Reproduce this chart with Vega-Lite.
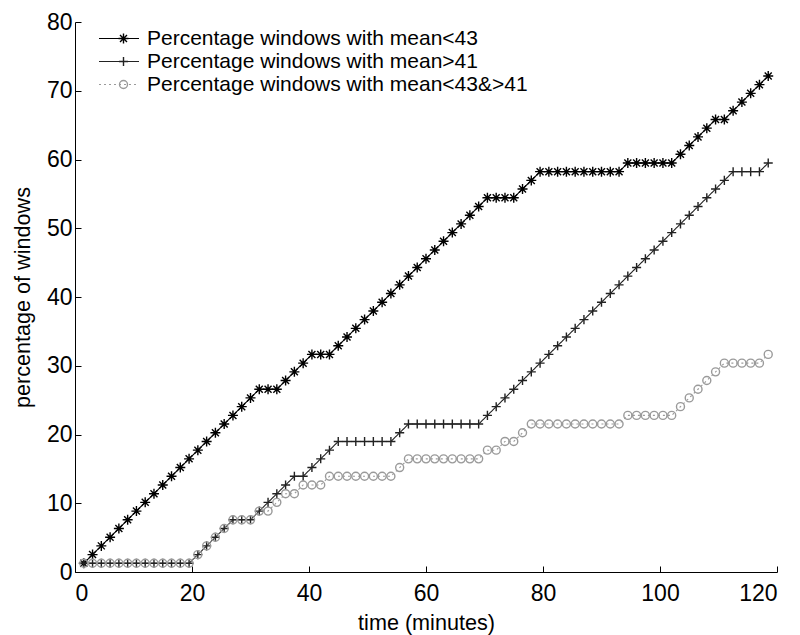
{
  "$schema": "https://vega.github.io/schema/vega-lite/v6.json",
  "width": 702,
  "height": 550,
  "autosize": {"type": "none"},
  "padding": {"left": 75, "top": 22, "right": 23, "bottom": 63},
  "background": "white",
  "config": {
    "view": {"stroke": null},
    "font": "Liberation Sans",
    "axis": {
      "grid": false,
      "domainColor": "#000",
      "domainWidth": 1,
      "tickColor": "#000",
      "tickWidth": 1,
      "tickSize": -6,
      "labelColor": "#000",
      "titleColor": "#000",
      "labelFont": "Liberation Sans",
      "titleFont": "Liberation Sans",
      "labelFontSize": 23,
      "titleFontSize": 21.6,
      "titleFontWeight": "normal"
    }
  },
  "data": {
    "values": [
      {"time": 1.5, "series": "Percentage windows with mean<43", "pct": 1.27},
      {"time": 3, "series": "Percentage windows with mean<43", "pct": 2.53},
      {"time": 4.5, "series": "Percentage windows with mean<43", "pct": 3.8},
      {"time": 6, "series": "Percentage windows with mean<43", "pct": 5.06},
      {"time": 7.5, "series": "Percentage windows with mean<43", "pct": 6.33},
      {"time": 9, "series": "Percentage windows with mean<43", "pct": 7.59},
      {"time": 10.5, "series": "Percentage windows with mean<43", "pct": 8.86},
      {"time": 12, "series": "Percentage windows with mean<43", "pct": 10.13},
      {"time": 13.5, "series": "Percentage windows with mean<43", "pct": 11.39},
      {"time": 15, "series": "Percentage windows with mean<43", "pct": 12.66},
      {"time": 16.5, "series": "Percentage windows with mean<43", "pct": 13.92},
      {"time": 18, "series": "Percentage windows with mean<43", "pct": 15.19},
      {"time": 19.5, "series": "Percentage windows with mean<43", "pct": 16.46},
      {"time": 21, "series": "Percentage windows with mean<43", "pct": 17.72},
      {"time": 22.5, "series": "Percentage windows with mean<43", "pct": 18.99},
      {"time": 24, "series": "Percentage windows with mean<43", "pct": 20.25},
      {"time": 25.5, "series": "Percentage windows with mean<43", "pct": 21.52},
      {"time": 27, "series": "Percentage windows with mean<43", "pct": 22.78},
      {"time": 28.5, "series": "Percentage windows with mean<43", "pct": 24.05},
      {"time": 30, "series": "Percentage windows with mean<43", "pct": 25.32},
      {"time": 31.5, "series": "Percentage windows with mean<43", "pct": 26.58},
      {"time": 33, "series": "Percentage windows with mean<43", "pct": 26.58},
      {"time": 34.5, "series": "Percentage windows with mean<43", "pct": 26.58},
      {"time": 36, "series": "Percentage windows with mean<43", "pct": 27.85},
      {"time": 37.5, "series": "Percentage windows with mean<43", "pct": 29.11},
      {"time": 39, "series": "Percentage windows with mean<43", "pct": 30.38},
      {"time": 40.5, "series": "Percentage windows with mean<43", "pct": 31.65},
      {"time": 42, "series": "Percentage windows with mean<43", "pct": 31.65},
      {"time": 43.5, "series": "Percentage windows with mean<43", "pct": 31.65},
      {"time": 45, "series": "Percentage windows with mean<43", "pct": 32.91},
      {"time": 46.5, "series": "Percentage windows with mean<43", "pct": 34.18},
      {"time": 48, "series": "Percentage windows with mean<43", "pct": 35.44},
      {"time": 49.5, "series": "Percentage windows with mean<43", "pct": 36.71},
      {"time": 51, "series": "Percentage windows with mean<43", "pct": 37.97},
      {"time": 52.5, "series": "Percentage windows with mean<43", "pct": 39.24},
      {"time": 54, "series": "Percentage windows with mean<43", "pct": 40.51},
      {"time": 55.5, "series": "Percentage windows with mean<43", "pct": 41.77},
      {"time": 57, "series": "Percentage windows with mean<43", "pct": 43.04},
      {"time": 58.5, "series": "Percentage windows with mean<43", "pct": 44.3},
      {"time": 60, "series": "Percentage windows with mean<43", "pct": 45.57},
      {"time": 61.5, "series": "Percentage windows with mean<43", "pct": 46.84},
      {"time": 63, "series": "Percentage windows with mean<43", "pct": 48.1},
      {"time": 64.5, "series": "Percentage windows with mean<43", "pct": 49.37},
      {"time": 66, "series": "Percentage windows with mean<43", "pct": 50.63},
      {"time": 67.5, "series": "Percentage windows with mean<43", "pct": 51.9},
      {"time": 69, "series": "Percentage windows with mean<43", "pct": 53.16},
      {"time": 70.5, "series": "Percentage windows with mean<43", "pct": 54.43},
      {"time": 72, "series": "Percentage windows with mean<43", "pct": 54.43},
      {"time": 73.5, "series": "Percentage windows with mean<43", "pct": 54.43},
      {"time": 75, "series": "Percentage windows with mean<43", "pct": 54.43},
      {"time": 76.5, "series": "Percentage windows with mean<43", "pct": 55.7},
      {"time": 78, "series": "Percentage windows with mean<43", "pct": 56.96},
      {"time": 79.5, "series": "Percentage windows with mean<43", "pct": 58.23},
      {"time": 81, "series": "Percentage windows with mean<43", "pct": 58.23},
      {"time": 82.5, "series": "Percentage windows with mean<43", "pct": 58.23},
      {"time": 84, "series": "Percentage windows with mean<43", "pct": 58.23},
      {"time": 85.5, "series": "Percentage windows with mean<43", "pct": 58.23},
      {"time": 87, "series": "Percentage windows with mean<43", "pct": 58.23},
      {"time": 88.5, "series": "Percentage windows with mean<43", "pct": 58.23},
      {"time": 90, "series": "Percentage windows with mean<43", "pct": 58.23},
      {"time": 91.5, "series": "Percentage windows with mean<43", "pct": 58.23},
      {"time": 93, "series": "Percentage windows with mean<43", "pct": 58.23},
      {"time": 94.5, "series": "Percentage windows with mean<43", "pct": 59.49},
      {"time": 96, "series": "Percentage windows with mean<43", "pct": 59.49},
      {"time": 97.5, "series": "Percentage windows with mean<43", "pct": 59.49},
      {"time": 99, "series": "Percentage windows with mean<43", "pct": 59.49},
      {"time": 100.5, "series": "Percentage windows with mean<43", "pct": 59.49},
      {"time": 102, "series": "Percentage windows with mean<43", "pct": 59.49},
      {"time": 103.5, "series": "Percentage windows with mean<43", "pct": 60.76},
      {"time": 105, "series": "Percentage windows with mean<43", "pct": 62.03},
      {"time": 106.5, "series": "Percentage windows with mean<43", "pct": 63.29},
      {"time": 108, "series": "Percentage windows with mean<43", "pct": 64.56},
      {"time": 109.5, "series": "Percentage windows with mean<43", "pct": 65.82},
      {"time": 111, "series": "Percentage windows with mean<43", "pct": 65.82},
      {"time": 112.5, "series": "Percentage windows with mean<43", "pct": 67.09},
      {"time": 114, "series": "Percentage windows with mean<43", "pct": 68.35},
      {"time": 115.5, "series": "Percentage windows with mean<43", "pct": 69.62},
      {"time": 117, "series": "Percentage windows with mean<43", "pct": 70.89},
      {"time": 118.5, "series": "Percentage windows with mean<43", "pct": 72.15},

      {"time": 1.5, "series": "Percentage windows with mean>41", "pct": 1.27},
      {"time": 3, "series": "Percentage windows with mean>41", "pct": 1.27},
      {"time": 4.5, "series": "Percentage windows with mean>41", "pct": 1.27},
      {"time": 6, "series": "Percentage windows with mean>41", "pct": 1.27},
      {"time": 7.5, "series": "Percentage windows with mean>41", "pct": 1.27},
      {"time": 9, "series": "Percentage windows with mean>41", "pct": 1.27},
      {"time": 10.5, "series": "Percentage windows with mean>41", "pct": 1.27},
      {"time": 12, "series": "Percentage windows with mean>41", "pct": 1.27},
      {"time": 13.5, "series": "Percentage windows with mean>41", "pct": 1.27},
      {"time": 15, "series": "Percentage windows with mean>41", "pct": 1.27},
      {"time": 16.5, "series": "Percentage windows with mean>41", "pct": 1.27},
      {"time": 18, "series": "Percentage windows with mean>41", "pct": 1.27},
      {"time": 19.5, "series": "Percentage windows with mean>41", "pct": 1.27},
      {"time": 21, "series": "Percentage windows with mean>41", "pct": 2.53},
      {"time": 22.5, "series": "Percentage windows with mean>41", "pct": 3.8},
      {"time": 24, "series": "Percentage windows with mean>41", "pct": 5.06},
      {"time": 25.5, "series": "Percentage windows with mean>41", "pct": 6.33},
      {"time": 27, "series": "Percentage windows with mean>41", "pct": 7.59},
      {"time": 28.5, "series": "Percentage windows with mean>41", "pct": 7.59},
      {"time": 30, "series": "Percentage windows with mean>41", "pct": 7.59},
      {"time": 31.5, "series": "Percentage windows with mean>41", "pct": 8.86},
      {"time": 33, "series": "Percentage windows with mean>41", "pct": 10.13},
      {"time": 34.5, "series": "Percentage windows with mean>41", "pct": 11.39},
      {"time": 36, "series": "Percentage windows with mean>41", "pct": 12.66},
      {"time": 37.5, "series": "Percentage windows with mean>41", "pct": 13.92},
      {"time": 39, "series": "Percentage windows with mean>41", "pct": 13.92},
      {"time": 40.5, "series": "Percentage windows with mean>41", "pct": 15.19},
      {"time": 42, "series": "Percentage windows with mean>41", "pct": 16.46},
      {"time": 43.5, "series": "Percentage windows with mean>41", "pct": 17.72},
      {"time": 45, "series": "Percentage windows with mean>41", "pct": 18.99},
      {"time": 46.5, "series": "Percentage windows with mean>41", "pct": 18.99},
      {"time": 48, "series": "Percentage windows with mean>41", "pct": 18.99},
      {"time": 49.5, "series": "Percentage windows with mean>41", "pct": 18.99},
      {"time": 51, "series": "Percentage windows with mean>41", "pct": 18.99},
      {"time": 52.5, "series": "Percentage windows with mean>41", "pct": 18.99},
      {"time": 54, "series": "Percentage windows with mean>41", "pct": 18.99},
      {"time": 55.5, "series": "Percentage windows with mean>41", "pct": 20.25},
      {"time": 57, "series": "Percentage windows with mean>41", "pct": 21.52},
      {"time": 58.5, "series": "Percentage windows with mean>41", "pct": 21.52},
      {"time": 60, "series": "Percentage windows with mean>41", "pct": 21.52},
      {"time": 61.5, "series": "Percentage windows with mean>41", "pct": 21.52},
      {"time": 63, "series": "Percentage windows with mean>41", "pct": 21.52},
      {"time": 64.5, "series": "Percentage windows with mean>41", "pct": 21.52},
      {"time": 66, "series": "Percentage windows with mean>41", "pct": 21.52},
      {"time": 67.5, "series": "Percentage windows with mean>41", "pct": 21.52},
      {"time": 69, "series": "Percentage windows with mean>41", "pct": 21.52},
      {"time": 70.5, "series": "Percentage windows with mean>41", "pct": 22.78},
      {"time": 72, "series": "Percentage windows with mean>41", "pct": 24.05},
      {"time": 73.5, "series": "Percentage windows with mean>41", "pct": 25.32},
      {"time": 75, "series": "Percentage windows with mean>41", "pct": 26.58},
      {"time": 76.5, "series": "Percentage windows with mean>41", "pct": 27.85},
      {"time": 78, "series": "Percentage windows with mean>41", "pct": 29.11},
      {"time": 79.5, "series": "Percentage windows with mean>41", "pct": 30.38},
      {"time": 81, "series": "Percentage windows with mean>41", "pct": 31.65},
      {"time": 82.5, "series": "Percentage windows with mean>41", "pct": 32.91},
      {"time": 84, "series": "Percentage windows with mean>41", "pct": 34.18},
      {"time": 85.5, "series": "Percentage windows with mean>41", "pct": 35.44},
      {"time": 87, "series": "Percentage windows with mean>41", "pct": 36.71},
      {"time": 88.5, "series": "Percentage windows with mean>41", "pct": 37.97},
      {"time": 90, "series": "Percentage windows with mean>41", "pct": 39.24},
      {"time": 91.5, "series": "Percentage windows with mean>41", "pct": 40.51},
      {"time": 93, "series": "Percentage windows with mean>41", "pct": 41.77},
      {"time": 94.5, "series": "Percentage windows with mean>41", "pct": 43.04},
      {"time": 96, "series": "Percentage windows with mean>41", "pct": 44.3},
      {"time": 97.5, "series": "Percentage windows with mean>41", "pct": 45.57},
      {"time": 99, "series": "Percentage windows with mean>41", "pct": 46.84},
      {"time": 100.5, "series": "Percentage windows with mean>41", "pct": 48.1},
      {"time": 102, "series": "Percentage windows with mean>41", "pct": 49.37},
      {"time": 103.5, "series": "Percentage windows with mean>41", "pct": 50.63},
      {"time": 105, "series": "Percentage windows with mean>41", "pct": 51.9},
      {"time": 106.5, "series": "Percentage windows with mean>41", "pct": 53.16},
      {"time": 108, "series": "Percentage windows with mean>41", "pct": 54.43},
      {"time": 109.5, "series": "Percentage windows with mean>41", "pct": 55.7},
      {"time": 111, "series": "Percentage windows with mean>41", "pct": 56.96},
      {"time": 112.5, "series": "Percentage windows with mean>41", "pct": 58.23},
      {"time": 114, "series": "Percentage windows with mean>41", "pct": 58.23},
      {"time": 115.5, "series": "Percentage windows with mean>41", "pct": 58.23},
      {"time": 117, "series": "Percentage windows with mean>41", "pct": 58.23},
      {"time": 118.5, "series": "Percentage windows with mean>41", "pct": 59.49},

      {"time": 1.5, "series": "Percentage windows with mean<43&>41", "pct": 1.27},
      {"time": 3, "series": "Percentage windows with mean<43&>41", "pct": 1.27},
      {"time": 4.5, "series": "Percentage windows with mean<43&>41", "pct": 1.27},
      {"time": 6, "series": "Percentage windows with mean<43&>41", "pct": 1.27},
      {"time": 7.5, "series": "Percentage windows with mean<43&>41", "pct": 1.27},
      {"time": 9, "series": "Percentage windows with mean<43&>41", "pct": 1.27},
      {"time": 10.5, "series": "Percentage windows with mean<43&>41", "pct": 1.27},
      {"time": 12, "series": "Percentage windows with mean<43&>41", "pct": 1.27},
      {"time": 13.5, "series": "Percentage windows with mean<43&>41", "pct": 1.27},
      {"time": 15, "series": "Percentage windows with mean<43&>41", "pct": 1.27},
      {"time": 16.5, "series": "Percentage windows with mean<43&>41", "pct": 1.27},
      {"time": 18, "series": "Percentage windows with mean<43&>41", "pct": 1.27},
      {"time": 19.5, "series": "Percentage windows with mean<43&>41", "pct": 1.27},
      {"time": 21, "series": "Percentage windows with mean<43&>41", "pct": 2.53},
      {"time": 22.5, "series": "Percentage windows with mean<43&>41", "pct": 3.8},
      {"time": 24, "series": "Percentage windows with mean<43&>41", "pct": 5.06},
      {"time": 25.5, "series": "Percentage windows with mean<43&>41", "pct": 6.33},
      {"time": 27, "series": "Percentage windows with mean<43&>41", "pct": 7.59},
      {"time": 28.5, "series": "Percentage windows with mean<43&>41", "pct": 7.59},
      {"time": 30, "series": "Percentage windows with mean<43&>41", "pct": 7.59},
      {"time": 31.5, "series": "Percentage windows with mean<43&>41", "pct": 8.86},
      {"time": 33, "series": "Percentage windows with mean<43&>41", "pct": 8.86},
      {"time": 34.5, "series": "Percentage windows with mean<43&>41", "pct": 10.13},
      {"time": 36, "series": "Percentage windows with mean<43&>41", "pct": 11.39},
      {"time": 37.5, "series": "Percentage windows with mean<43&>41", "pct": 11.39},
      {"time": 39, "series": "Percentage windows with mean<43&>41", "pct": 12.66},
      {"time": 40.5, "series": "Percentage windows with mean<43&>41", "pct": 12.66},
      {"time": 42, "series": "Percentage windows with mean<43&>41", "pct": 12.66},
      {"time": 43.5, "series": "Percentage windows with mean<43&>41", "pct": 13.92},
      {"time": 45, "series": "Percentage windows with mean<43&>41", "pct": 13.92},
      {"time": 46.5, "series": "Percentage windows with mean<43&>41", "pct": 13.92},
      {"time": 48, "series": "Percentage windows with mean<43&>41", "pct": 13.92},
      {"time": 49.5, "series": "Percentage windows with mean<43&>41", "pct": 13.92},
      {"time": 51, "series": "Percentage windows with mean<43&>41", "pct": 13.92},
      {"time": 52.5, "series": "Percentage windows with mean<43&>41", "pct": 13.92},
      {"time": 54, "series": "Percentage windows with mean<43&>41", "pct": 13.92},
      {"time": 55.5, "series": "Percentage windows with mean<43&>41", "pct": 15.19},
      {"time": 57, "series": "Percentage windows with mean<43&>41", "pct": 16.46},
      {"time": 58.5, "series": "Percentage windows with mean<43&>41", "pct": 16.46},
      {"time": 60, "series": "Percentage windows with mean<43&>41", "pct": 16.46},
      {"time": 61.5, "series": "Percentage windows with mean<43&>41", "pct": 16.46},
      {"time": 63, "series": "Percentage windows with mean<43&>41", "pct": 16.46},
      {"time": 64.5, "series": "Percentage windows with mean<43&>41", "pct": 16.46},
      {"time": 66, "series": "Percentage windows with mean<43&>41", "pct": 16.46},
      {"time": 67.5, "series": "Percentage windows with mean<43&>41", "pct": 16.46},
      {"time": 69, "series": "Percentage windows with mean<43&>41", "pct": 16.46},
      {"time": 70.5, "series": "Percentage windows with mean<43&>41", "pct": 17.72},
      {"time": 72, "series": "Percentage windows with mean<43&>41", "pct": 17.72},
      {"time": 73.5, "series": "Percentage windows with mean<43&>41", "pct": 18.99},
      {"time": 75, "series": "Percentage windows with mean<43&>41", "pct": 18.99},
      {"time": 76.5, "series": "Percentage windows with mean<43&>41", "pct": 20.25},
      {"time": 78, "series": "Percentage windows with mean<43&>41", "pct": 21.52},
      {"time": 79.5, "series": "Percentage windows with mean<43&>41", "pct": 21.52},
      {"time": 81, "series": "Percentage windows with mean<43&>41", "pct": 21.52},
      {"time": 82.5, "series": "Percentage windows with mean<43&>41", "pct": 21.52},
      {"time": 84, "series": "Percentage windows with mean<43&>41", "pct": 21.52},
      {"time": 85.5, "series": "Percentage windows with mean<43&>41", "pct": 21.52},
      {"time": 87, "series": "Percentage windows with mean<43&>41", "pct": 21.52},
      {"time": 88.5, "series": "Percentage windows with mean<43&>41", "pct": 21.52},
      {"time": 90, "series": "Percentage windows with mean<43&>41", "pct": 21.52},
      {"time": 91.5, "series": "Percentage windows with mean<43&>41", "pct": 21.52},
      {"time": 93, "series": "Percentage windows with mean<43&>41", "pct": 21.52},
      {"time": 94.5, "series": "Percentage windows with mean<43&>41", "pct": 22.78},
      {"time": 96, "series": "Percentage windows with mean<43&>41", "pct": 22.78},
      {"time": 97.5, "series": "Percentage windows with mean<43&>41", "pct": 22.78},
      {"time": 99, "series": "Percentage windows with mean<43&>41", "pct": 22.78},
      {"time": 100.5, "series": "Percentage windows with mean<43&>41", "pct": 22.78},
      {"time": 102, "series": "Percentage windows with mean<43&>41", "pct": 22.78},
      {"time": 103.5, "series": "Percentage windows with mean<43&>41", "pct": 24.05},
      {"time": 105, "series": "Percentage windows with mean<43&>41", "pct": 25.32},
      {"time": 106.5, "series": "Percentage windows with mean<43&>41", "pct": 26.58},
      {"time": 108, "series": "Percentage windows with mean<43&>41", "pct": 27.85},
      {"time": 109.5, "series": "Percentage windows with mean<43&>41", "pct": 29.11},
      {"time": 111, "series": "Percentage windows with mean<43&>41", "pct": 30.38},
      {"time": 112.5, "series": "Percentage windows with mean<43&>41", "pct": 30.38},
      {"time": 114, "series": "Percentage windows with mean<43&>41", "pct": 30.38},
      {"time": 115.5, "series": "Percentage windows with mean<43&>41", "pct": 30.38},
      {"time": 117, "series": "Percentage windows with mean<43&>41", "pct": 30.38},
      {"time": 118.5, "series": "Percentage windows with mean<43&>41", "pct": 31.65}
    ]
  },
  "encoding": {
    "x": {
      "field": "time",
      "type": "quantitative",
      "scale": {"domain": [0, 120], "nice": false},
      "axis": {
        "values": [0, 20, 40, 60, 80, 100, 120],
        "title": "time (minutes)",
        "labelPadding": 16,
        "titleBaseline": "alphabetic",
        "titleY": 57
      }
    },
    "y": {
      "field": "pct",
      "type": "quantitative",
      "scale": {"domain": [0, 80], "nice": false},
      "axis": {
        "values": [0, 10, 20, 30, 40, 50, 60, 70, 80],
        "title": "percentage of windows",
        "labelPadding": 9,
        "titleAngle": -90,
        "titleBaseline": "alphabetic",
        "titleAlign": "center",
        "titleX": -46,
        "titleY": 275
      }
    }
  },
  "layer": [
    {
      "mark": {"type": "line", "strokeWidth": 1.1},
      "encoding": {
        "color": {
          "field": "series",
          "type": "nominal",
          "scale": {
            "domain": ["Percentage windows with mean<43", "Percentage windows with mean>41", "Percentage windows with mean<43&>41"],
            "range": ["#000000", "#222222", "#9a9a9a"]
          },
          "legend": {
            "orient": "none", "legendX": 23, "legendY": 5, "title": null,
            "symbolType": "stroke", "symbolSize": 1600, "symbolStrokeWidth": 1.1,
            "labelFont": "Liberation Sans", "labelFontSize": 21, "labelColor": "#000",
            "labelOffset": 7, "clipHeight": 23, "rowPadding": 0, "padding": 0, "labelLimit": 600
          }
        },
        "strokeDash": {
          "field": "series",
          "type": "nominal",
          "scale": {
            "domain": ["Percentage windows with mean<43", "Percentage windows with mean>41", "Percentage windows with mean<43&>41"],
            "range": [[1, 0], [1, 0], [2, 3]]
          },
          "legend": {
            "orient": "none", "legendX": 23, "legendY": 5, "title": null,
            "symbolType": "stroke", "symbolSize": 1600, "symbolStrokeWidth": 1.1,
            "labelFont": "Liberation Sans", "labelFontSize": 21, "labelColor": "#000",
            "labelOffset": 7, "clipHeight": 23, "rowPadding": 0, "padding": 0, "labelLimit": 600
          }
        }
      }
    },
    {
      "mark": {"type": "point", "filled": false, "strokeWidth": 1.4, "opacity": 1},
      "encoding": {
        "color": {
          "field": "series",
          "type": "nominal",
          "scale": {
            "domain": ["Percentage windows with mean<43", "Percentage windows with mean>41", "Percentage windows with mean<43&>41"],
            "range": ["#000000", "#222222", "#9a9a9a"]
          },
          "legend": {
            "orient": "none", "legendX": 38, "legendY": 5, "title": null,
            "symbolStrokeWidth": 1.4, "labelExpr": "''",
            "labelFontSize": 21, "clipHeight": 23, "rowPadding": 0, "padding": 0
          }
        },
        "shape": {
          "field": "series",
          "type": "nominal",
          "scale": {
            "domain": ["Percentage windows with mean<43", "Percentage windows with mean>41", "Percentage windows with mean<43&>41"],
            "range": ["M-1,0L1,0M0,-1L0,1M-0.7,-0.7L0.7,0.7M-0.7,0.7L0.7,-0.7", "M-1,0L1,0M0,-1L0,1", "circle"]
          },
          "legend": {
            "orient": "none", "legendX": 38, "legendY": 5, "title": null,
            "symbolStrokeWidth": 1.4, "labelExpr": "''",
            "labelFontSize": 21, "clipHeight": 23, "rowPadding": 0, "padding": 0
          }
        },
        "size": {
          "field": "series",
          "type": "ordinal",
          "scale": {
            "domain": ["Percentage windows with mean<43", "Percentage windows with mean>41", "Percentage windows with mean<43&>41"],
            "range": [100, 64, 36]
          },
          "legend": {
            "orient": "none", "legendX": 38, "legendY": 5, "title": null,
            "symbolStrokeWidth": 1.4, "labelExpr": "''",
            "labelFontSize": 21, "clipHeight": 23, "rowPadding": 0, "padding": 0
          }
        }
      }
    }
  ],
  "resolve": {"legend": {"color": "independent", "strokeDash": "independent", "shape": "independent", "size": "independent"}}
}
